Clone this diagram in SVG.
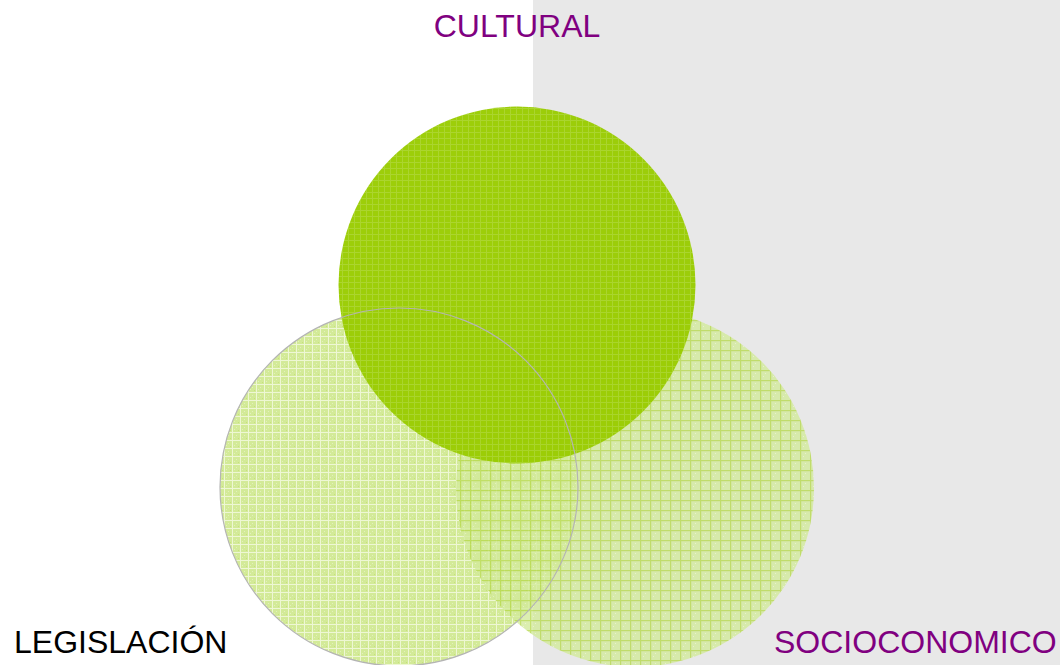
<svg xmlns="http://www.w3.org/2000/svg" width="1060" height="665" viewBox="0 0 1060 665">
  <defs>
    <style>
      .lbl { font-family: "Liberation Sans", Arial, sans-serif; font-size: 32px; }
      .purple { fill: #800080; }
      .black { fill: #000000; }
      .edge { fill: none; stroke: #b4b4b4; stroke-width: 1.2; }
    </style>
    <pattern id="gridLeft" width="8" height="8" patternUnits="userSpaceOnUse">
      <rect width="8" height="8" fill="#d3ea98"/>
      <rect x="0" y="0" width="8" height="1" fill="#eef7d4"/>
      <rect x="0" y="0" width="1" height="8" fill="#eef7d4"/>
      <rect x="4" y="3" width="1" height="1" fill="#e2f1bc"/>
      <rect x="2" y="5" width="1" height="1" fill="#e2f1bc"/>
      <rect x="6" y="6" width="1" height="1" fill="#c6e27a"/>
    </pattern>
    <pattern id="gridRight" width="10" height="10" patternUnits="userSpaceOnUse">
      <rect width="10" height="10" fill="#d3ea9c"/>
      <rect x="0" y="0" width="10" height="1.2" fill="#b6d94c"/>
      <rect x="0" y="0" width="1.2" height="10" fill="#b6d94c"/>
      <rect x="5" y="3" width="1" height="1" fill="#e6f3c6"/>
      <rect x="3" y="6" width="1" height="1" fill="#e6f3c6"/>
    </pattern>
    <pattern id="gridDark" width="6" height="6" patternUnits="userSpaceOnUse">
      <rect width="6" height="6" fill="#9acc02"/>
      <rect x="0" y="0" width="6" height="1" fill="#a8d428"/>
      <rect x="0" y="0" width="1" height="6" fill="#a8d428"/>
    </pattern>
  </defs>

  <rect x="0" y="0" width="1060" height="665" fill="#ffffff"/>
  <rect x="533" y="0" width="527" height="665" fill="#e8e8e8"/>

  <g id="legislacion-circle">
    <circle cx="399" cy="487" r="179" fill="url(#gridLeft)"/>
  </g>
  <g id="socioconomico-circle">
    <circle cx="635" cy="488" r="179" fill="url(#gridRight)" fill-opacity="0.8"/>
  </g>
  <g id="cultural-circle">
    <circle cx="517" cy="285" r="178.5" fill="url(#gridDark)" fill-opacity="0.97"/>
  </g>

  <g id="connectors">
    <circle class="edge" cx="399" cy="487" r="179"/>
  </g>

  <g id="label-cultural">
    <text class="lbl purple" x="517" y="37" text-anchor="middle">CULTURAL</text>
  </g>
  <g id="label-legislacion">
    <text class="lbl black" x="14" y="653">LEGISLACIÓN</text>
  </g>
  <g id="label-socioconomico">
    <text class="lbl purple" x="774" y="653">SOCIOCONOMICO</text>
  </g>
</svg>
